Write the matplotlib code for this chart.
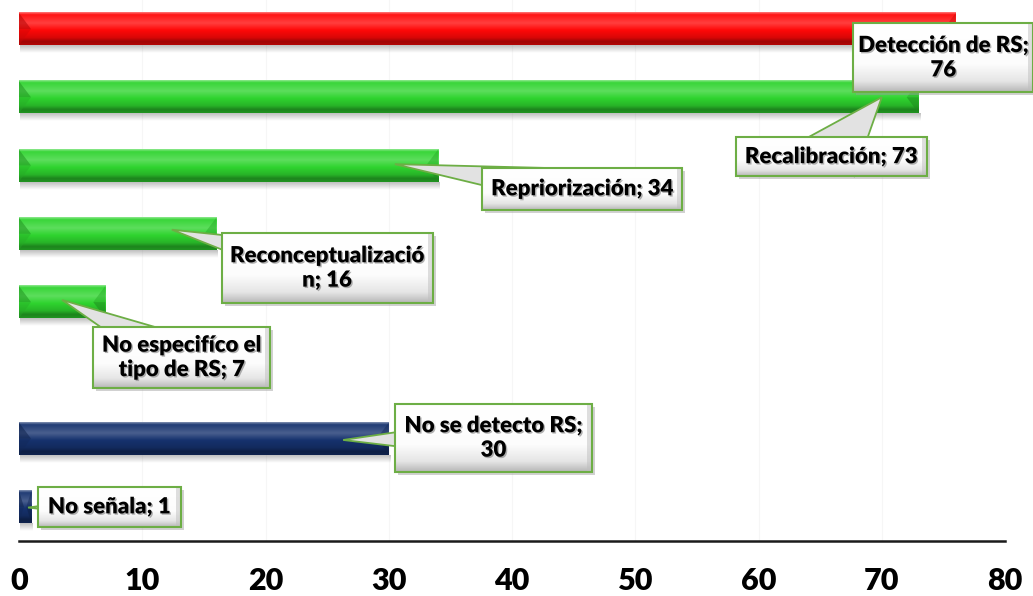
import numpy as np
import matplotlib
matplotlib.use("Agg")
import matplotlib.pyplot as plt
from matplotlib.patches import Rectangle, Polygon
from matplotlib.colors import to_rgb
import matplotlib.patheffects as pe

plt.rcParams['font.family'] = ['Lato', 'DejaVu Sans']

# ---------------- data ----------------
categories = ["Detección de RS", "Recalibración", "Repriorización", "Reconceptualización",
              "No especifíco el tipo de RS", "", "No se detecto RS", "No señala"]
values = [76, 73, 34, 16, 7, None, 30, 1]
bar_colors = ["#FF0808", "#2FD42F", "#2FD42F", "#2FD42F", "#2FD42F", None, "#16326E", "#16326E"]
break_at = [16, None, None, 18, 16, None, 17, None]
x_ticks = [0, 10, 20, 30, 40, 50, 60, 70, 80]

# ---------------- label layout (data units: x value, y slot) ----------------
box_center = [(75.0, 0.42), (65.9, 1.87), (45.7, 2.34), (25.0, 3.50), (13.2, 4.81), None, (38.5, 5.99), (7.34, 7.0)]
box_size = [(180, 69), (191, 39), (200, 42), (211, 70), (177, 61), None, (197, 68), (143, 40)]
tip = [(74.0, 0.2), (70.0, 1.0), (30.5, 1.98), (12.4, 2.94), (3.5, 3.97), None, (26.3, 6.02), (0.73, 7.01)]
pointer_hw = [20, 30, 20, 22, 22, None, 20, 10]

W, H = 1033, 596
fig = plt.figure(figsize=(W / 100, H / 100), dpi=100)
left_px, right_px, axis_px = 19, 1005, 541
ax = fig.add_axes([left_px / W, 1 - axis_px / H, (right_px - left_px) / W, axis_px / H])
ymin_slot, ymax_slot = -0.425, 7.50
SX = (right_px - left_px) / 80.0          # px per x unit
SY = axis_px / (ymax_slot - ymin_slot)    # px per slot


def adjust(c, f):
    c = np.array(to_rgb(c))
    if f >= 0:
        return c + (1 - c) * f
    return c * (1 + f)


def vgrad(stops, n=64):
    pos = np.array([s[0] for s in stops])
    cols = np.array([s[1] for s in stops])
    t = np.linspace(0, 1, n)
    out = np.stack([np.interp(t, pos, cols[:, k]) for k in range(cols.shape[1])], axis=1)
    return out[:, None, :]


bar_h = 0.47
for xv in x_ticks[1:-1]:
    ax.axvline(xv, color="#F6F6F6", lw=0.8, zorder=0)

for i, (v, c) in enumerate(zip(values, bar_colors)):
    if v is None:
        continue
    top, bot = i - bar_h / 2, i + bar_h / 2
    sh_h = 8 / SY
    sh = np.zeros((16, 1, 4))
    sh[:, 0, :3] = 0.45
    sh[:, 0, 3] = np.linspace(0.45, 0.0, 16)
    ax.imshow(sh, extent=(0.1, v + 0.15, bot + sh_h, bot), origin="upper", aspect="auto",
              zorder=1, interpolation="bilinear")
    stops = [(0.0, adjust(c, 0.45)), (0.07, adjust(c, 0.05)), (0.33, adjust(c, 0.22)),
             (0.55, adjust(c, 0.0)), (0.78, adjust(c, -0.15)), (0.9, adjust(c, -0.38)),
             (1.0, adjust(c, -0.3))]
    ax.imshow(vgrad(stops), extent=(0, v, bot, top), origin="upper", aspect="auto",
              zorder=2, interpolation="bilinear")
    dx = min(12 / SX, v / 2.5)
    mid = i
    ax.add_patch(Polygon([(0, top), (dx, mid), (0, mid)], closed=True,
                         facecolor=adjust(c, -0.3), alpha=0.55, lw=0, zorder=3))
    ax.add_patch(Polygon([(0, mid), (dx, mid), (0, bot)], closed=True,
                         facecolor=adjust(c, -0.2), alpha=0.4, lw=0, zorder=3))
    ax.add_patch(Polygon([(v, top), (v - dx, mid), (v, mid)], closed=True,
                         facecolor=adjust(c, -0.2), alpha=0.45, lw=0, zorder=3))
    ax.add_patch(Polygon([(v, mid), (v - dx, mid), (v, bot)], closed=True,
                         facecolor=adjust(c, -0.35), alpha=0.55, lw=0, zorder=3))

# ---------------- callout labels ----------------
border = "#6DAE45"
for i, (cat, v) in enumerate(zip(categories, values)):
    if v is None:
        continue
    full = f"{cat}; {v}"
    if break_at[i]:
        full = full[:break_at[i]] + "\n" + full[break_at[i]:].strip()
    cx, cy = box_center[i]
    wpx, hpx = box_size[i]
    w, h = wpx / SX, hpx / SY
    x0, x1 = cx - w / 2, cx + w / 2
    y0, y1 = cy - h / 2, cy + h / 2
    tx, ty = tip[i]
    dxp, dyp = (tx - cx) * SX, (ty - cy) * SY
    L = np.hypot(dxp, dyp)
    nx, ny = -dyp / L, dxp / L
    hw = pointer_hw[i]
    p1 = (cx + nx * hw / SX, cy + ny * hw / SY)
    p2 = (cx - nx * hw / SX, cy - ny * hw / SY)
    ax.add_patch(Polygon([p1, (tx, ty), p2], closed=True, facecolor="#E2E2E2",
                         edgecolor=border, lw=1.3, zorder=5, clip_on=False))
    ax.add_patch(Rectangle((x0 + 3 / SX, y0 + 3 / SY), w, h, facecolor="#9A9A9A",
                           alpha=0.45, lw=0, zorder=5.5, clip_on=False))
    gstops = [(0.0, (1, 1, 1)), (0.6, (0.99, 0.99, 0.99)), (0.85, (0.9, 0.9, 0.9)),
              (1.0, (0.72, 0.72, 0.72))]
    im = ax.imshow(vgrad(gstops), extent=(x0, x1, y1, y0), origin="upper", aspect="auto",
                   zorder=6, interpolation="bilinear")
    im.set_clip_on(False)
    ax.add_patch(Rectangle((x1 - 5 / SX, y0), 5 / SX, h, facecolor="#BFBFBF", alpha=0.5,
                           lw=0, zorder=6.2, clip_on=False))
    ax.add_patch(Rectangle((x0, y0), w, h, facecolor="none", edgecolor=border, lw=1.5,
                           zorder=7, clip_on=False))
    ax.text(cx, cy, full, ha="center", va="center", fontsize=16, fontweight="heavy",
            color="black", zorder=8, linespacing=1.2,
            path_effects=[pe.withSimplePatchShadow(offset=(1, -1), shadow_rgbFace="#7F7F7F",
                                                   alpha=0.6)])

# ---------------- axes ----------------
ax.set_xlim(0, 80)
ax.set_ylim(ymax_slot, ymin_slot)
for s in ["top", "right", "left"]:
    ax.spines[s].set_visible(False)
ax.spines["bottom"].set_linewidth(1.8)
ax.spines["bottom"].set_color("#1A1A1A")
ax.set_yticks([])
ax.set_xticks(x_ticks)
ax.set_xticklabels([str(t) for t in x_ticks], fontsize=22, fontweight="heavy")
ax.tick_params(axis="x", length=0, pad=19)
ax.set_facecolor("white")

fig.savefig("out.png", dpi=100, facecolor="white")
